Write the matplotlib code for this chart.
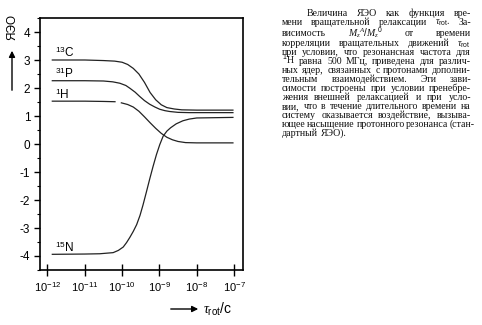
import numpy as np
import matplotlib
matplotlib.use("Agg")
import matplotlib.pyplot as plt
from matplotlib.patches import FancyArrowPatch

plt.rcParams['font.family'] = ['Liberation Sans', 'DejaVu Sans']
plt.rcParams['mathtext.fontset'] = 'custom'
plt.rcParams['mathtext.rm'] = 'Liberation Sans'
plt.rcParams['mathtext.it'] = 'Liberation Serif:italic'

# curves: log10(tau_rot / s) and NOE value
c13_logt = [-11.87, -11.0, -10.5, -10.2, -10.0, -9.85, -9.7, -9.55, -9.4,
            -9.25, -9.1, -8.95, -8.8, -8.6, -8.4, -8.0, -7.03]
c13_noe = [3.00, 3.00, 2.98, 2.96, 2.92, 2.84, 2.70, 2.50, 2.20,
           1.84, 1.58, 1.40, 1.30, 1.25, 1.22, 1.21, 1.21]

p31_logt = [-11.87, -11.0, -10.5, -10.25, -10.06, -9.9, -9.79, -9.65, -9.53,
            -9.4, -9.26, -9.12, -8.99, -8.85, -8.72, -8.5, -8.2, -7.03]
p31_noe = [2.26, 2.26, 2.25, 2.22, 2.17, 2.09, 1.99, 1.85, 1.70,
           1.55, 1.42, 1.32, 1.24, 1.19, 1.16, 1.13, 1.12, 1.12]

h1_logt = [-11.87, -11.0, -10.5, -10.19, np.nan, -10.02, -9.85, -9.7, -9.55,
           -9.4, -9.25, -9.1, -8.95, -8.8, -8.65, -8.5, -8.3, -8.0, -7.03]
h1_noe = [1.53, 1.53, 1.52, 1.51, np.nan, 1.47, 1.41, 1.32, 1.17,
          0.97, 0.76, 0.56, 0.38, 0.24, 0.15, 0.09, 0.05, 0.04, 0.04]

n15_logt = [-11.87, -11.0, -10.6, -10.24, -10.1, -9.97, -9.88, -9.79, -9.7,
            -9.61, -9.52, -9.44, -9.35, -9.26, -9.17, -9.08, -8.99, -8.90,
            -8.8, -8.7, -8.55, -8.37, -8.2, -8.0, -7.03]
n15_noe = [-3.94, -3.93, -3.92, -3.88, -3.80, -3.68, -3.52, -3.33, -3.12,
           -2.88, -2.55, -2.18, -1.72, -1.25, -0.80, -0.38, -0.02, 0.28,
           0.46, 0.58, 0.72, 0.83, 0.89, 0.93, 0.95]

curve_labels = ['$^{13}$C', '$^{31}$P', '$^{1}$H', '$^{15}$N']
label_noe = [3.27, 2.50, 1.77, -3.69]

xtick_exp = [-12, -11, -10, -9, -8, -7]
ytick_vals = [-4, -3, -2, -1, 0, 1, 2, 3, 4]

caption_lines = [
    "Величина ЯЭО как функция вре-",
    r"мени вращательной релаксации $\tau_\mathrm{rot}$. За-",
    r"висимость $M_z{}^A/M_z{}^0$ от времени",
    r"корреляции вращательных движений $\tau_\mathrm{rot}$",
    "при условии, что резонансная частота для",
    r"$^1$Н равна 500 МГц, приведена для различ-",
    "ных ядер, связанных с протонами дополни-",
    "тельным взаимодействием. Эти зави-",
    "симости построены при условии пренебре-",
    "жения внешней релаксацией и при усло-",
    "вии, что в течение длительного времени на",
    "систему оказывается воздействие, вызыва-",
    "ющее насыщение протонного резонанса (стан-",
    "дартный ЯЭО).",
]
caption_y = [13, 22, 33, 43, 52, 61, 70, 79, 88, 97, 106, 115, 124, 133]

W, H = 482, 325
fig = plt.figure(figsize=(W / 100, H / 100), dpi=100)
ax = fig.add_axes([40 / W, 1 - 270 / H, 203 / W, 252 / H])

for lt, v in [(c13_logt, c13_noe), (p31_logt, p31_noe),
              (h1_logt, h1_noe), (n15_logt, n15_noe)]:
    ax.plot(10.0 ** np.array(lt), v, color='#222222', lw=0.9)

for lab, v in zip(curve_labels, label_noe):
    ax.text(10 ** -11.8, v, lab, fontsize=8.5, va='center', ha='left')

ax.set_xscale('log')
ax.set_xlim(10 ** -12.2, 10 ** -6.76)
ax.set_ylim(-4.4, 4.4)
ax.set_xticks([10.0 ** e for e in xtick_exp])
ax.set_xticklabels([r'$10^{%d}$' % e for e in xtick_exp], fontsize=8)
ax.set_yticks(ytick_vals)
ax.set_yticklabels([str(v) if v >= 0 else '-%d' % -v for v in ytick_vals], fontsize=8.5)
ax.set_yticks(np.arange(-4.5, 4.6, 0.5), minor=True)
ax.tick_params(axis='x', which='major', direction='inout', length=8, width=1)
ax.tick_params(axis='x', which='minor', direction='in', length=3, width=0.7)
ax.tick_params(axis='y', which='major', direction='out', length=4, width=1, pad=3)
ax.tick_params(axis='y', which='minor', direction='out', length=2.5, width=0.8)
for s in ax.spines.values():
    s.set_linewidth(1.2)

# axis captions with arrows
fig.text(12 / W, 1 - 27 / H, 'ЯЭО', rotation=90, fontsize=8.5, ha='center', va='center')
fig.add_artist(FancyArrowPatch((12 / W, 1 - 93 / H), (12 / W, 1 - 48 / H),
                               transform=fig.transFigure, arrowstyle='-|>',
                               mutation_scale=9, lw=1, color='black'))
fig.add_artist(FancyArrowPatch((168 / W, 1 - 309 / H), (201 / W, 1 - 309 / H),
                               transform=fig.transFigure, arrowstyle='-|>',
                               mutation_scale=9, lw=1, color='black'))
fig.text(203 / W, 1 - 309 / H, r'$\tau_\mathrm{rot}$/c', fontsize=10, ha='left', va='center')

# justified caption on the right
fig.canvas.draw()
r = fig.canvas.get_renderer()
style = dict(fontsize=7.1, family='Liberation Serif', va='baseline', color='#111111')
for i, (line, y) in enumerate(zip(caption_lines, caption_y)):
    x0 = 307 if i == 0 else 282
    x1 = 471
    words = line.split(' ')
    objs = [fig.text(x0 / W, 1 - (y + 3) / H, w, **style) for w in words]
    widths = [o.get_window_extent(r).width for o in objs]
    if i == len(caption_lines) - 1:
        gap = 3
    else:
        gap = max(1.5, (x1 - x0 - sum(widths)) / (len(words) - 1))
    x = x0
    for o, w in zip(objs, widths):
        o.set_x(x / W)
        x += w + gap

fig.savefig('out.png', dpi=100)
